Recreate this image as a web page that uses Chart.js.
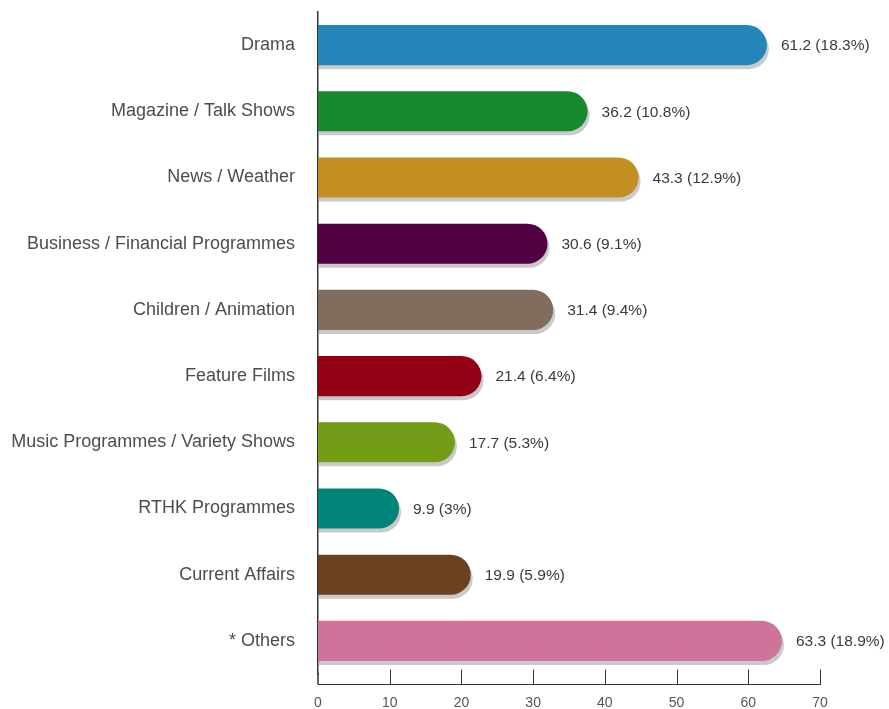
<!DOCTYPE html>
<html>
<head>
<meta charset="utf-8">
<script src="https://cdn.jsdelivr.net/npm/chart.js@4.4.0/dist/chart.umd.min.js"></script>
<style>
  html, body { margin: 0; padding: 0; background: #fff; }
  #wrap { width: 889px; height: 709px; }
</style>
</head>
<body>
<div id="wrap"><canvas id="myChart"></canvas></div>
<script>
const categories = ['Drama', 'Magazine / Talk Shows', 'News / Weather', 'Business / Financial Programmes',
  'Children / Animation', 'Feature Films', 'Music Programmes / Variety Shows', 'RTHK Programmes',
  'Current Affairs', '* Others'];
const hours = [61.2, 36.2, 43.3, 30.6, 31.4, 21.4, 17.7, 9.9, 19.9, 63.3];
const shares = ['18.3', '10.8', '12.9', '9.1', '9.4', '6.4', '5.3', '3', '5.9', '18.9'];
const barColours = ['#2385b8', '#188a2e', '#c48f22', '#520043', '#806d5d',
  '#940014', '#739c17', '#00847a', '#6b4220', '#cf739b'];

const CAP = 10;      // rounded cap sticks out past the value
const AXIS_GAP = 10; // x axis line sits a little below the last bar band
const FONT = '"Liberation Sans", Arial, sans-serif';

const capPlugin = {
  id: 'cap',
  afterDatasetsUpdate(chart) {
    chart.getDatasetMeta(0).data.forEach(el => { el.x += CAP; });
  },
  beforeDatasetsDraw(chart) {
    const ctx = chart.ctx;
    ctx.save();
    ctx.fillStyle = '#cacaca';
    chart.getDatasetMeta(0).data.forEach(el => {
      const h = el.height;
      ctx.beginPath();
      ctx.roundRect(el.base + 1, el.y - h / 2 + 4, el.x - el.base + 1, h, [0, h / 2, h / 2, 0]);
      ctx.fill();
    });
    ctx.restore();
  },
  afterDatasetsDraw(chart) {
    const ctx = chart.ctx;
    ctx.save();
    ctx.font = '15.5px ' + FONT;
    ctx.fillStyle = '#3a3a3a';
    ctx.textBaseline = 'middle';
    chart.getDatasetMeta(0).data.forEach((el, i) => {
      ctx.fillText(hours[i] + ' (' + shares[i] + '%)', el.x + 14, el.y + 1);
    });
    // axis lines and tick marks pointing up
    const xs = chart.scales.x;
    const { left, right, bottom } = chart.chartArea;
    const axisY = bottom + AXIS_GAP + 0.5;
    ctx.strokeStyle = '#333';
    ctx.lineWidth = 1.5;
    ctx.beginPath();
    ctx.moveTo(left, bottom - 1);
    ctx.lineTo(left, axisY);
    ctx.stroke();
    ctx.lineWidth = 1;
    ctx.beginPath();
    ctx.moveTo(left, axisY);
    ctx.lineTo(right + 1, axisY);
    ctx.stroke();
    xs.ticks.forEach(t => {
      if (t.value === 0) return;
      const px = Math.round(xs.getPixelForValue(t.value)) + 0.5;
      ctx.beginPath();
      ctx.moveTo(px, axisY);
      ctx.lineTo(px, axisY - 15);
      ctx.stroke();
    });
    ctx.restore();
  }
};

new Chart(document.getElementById('myChart'), {
  type: 'bar',
  data: {
    labels: categories,
    datasets: [{
      data: hours,
      backgroundColor: barColours,
      borderWidth: 0,
      borderRadius: { topRight: 20, bottomRight: 20 },
      borderSkipped: 'start',
      barPercentage: 0.605,
      categoryPercentage: 1
    }]
  },
  options: {
    indexAxis: 'y',
    responsive: true,
    maintainAspectRatio: false,
    animation: false,
    events: [],
    layout: { padding: { top: 12, right: 69, left: 0, bottom: 0 } },
    plugins: { legend: { display: false }, tooltip: { enabled: false } },
    scales: {
      x: {
        min: 0,
        max: 70,
        ticks: { stepSize: 10, color: '#555', padding: 21,
          font: { family: FONT, size: 14 } },
        grid: { display: false, drawTicks: false },
        border: { display: false },
        afterFit(s) { s.height = 35; }
      },
      y: {
        ticks: { color: '#4d4d4d', padding: 0,
          font: { family: FONT, size: 18 } },
        grid: { display: false, drawTicks: true, tickLength: 23 },
        border: { display: true, color: '#333', width: 1.5 },
        afterFit(s) { s.width = 318; }
      }
    }
  },
  plugins: [capPlugin]
});
</script>
</body>
</html>
